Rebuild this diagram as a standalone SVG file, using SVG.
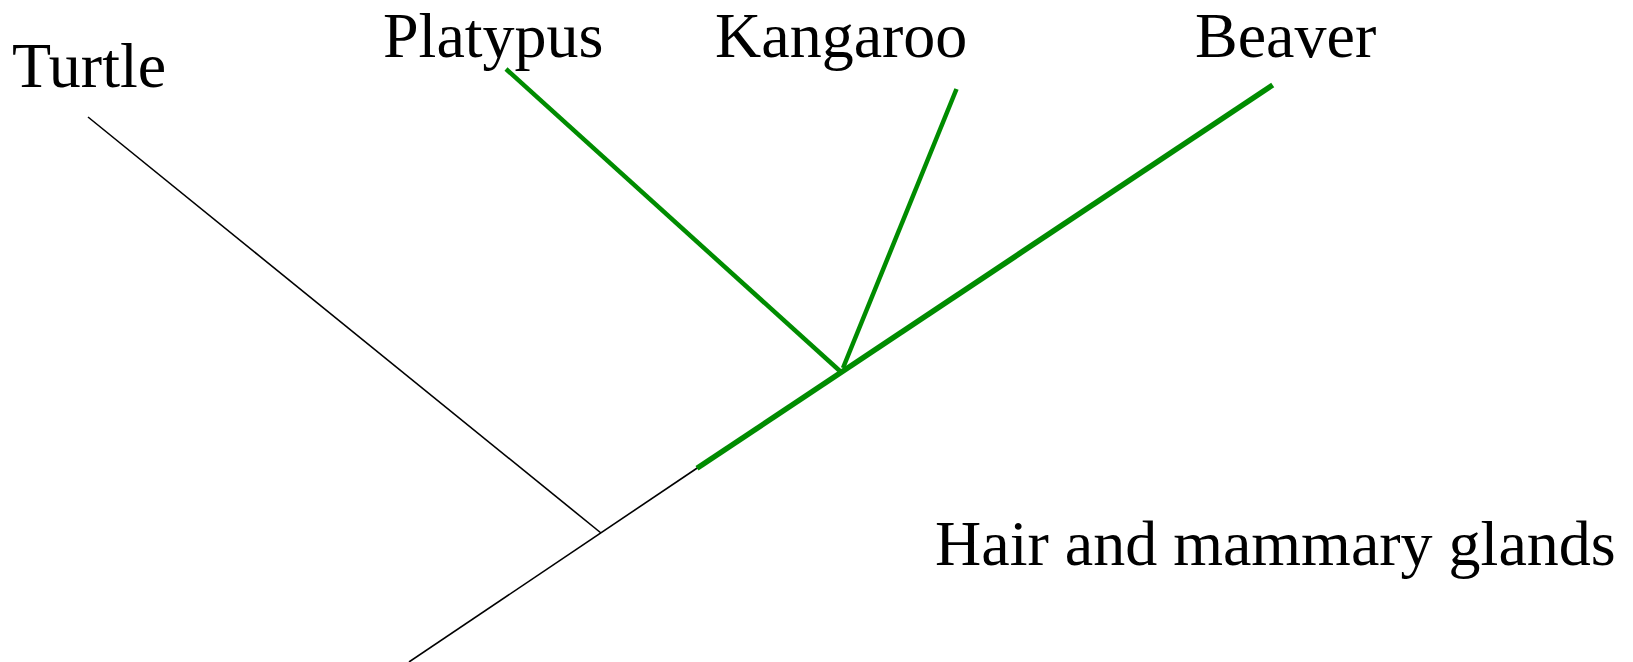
<svg xmlns="http://www.w3.org/2000/svg" width="1633" height="662" viewBox="0 0 1633 662">
<style>
text{font-family:"Liberation Serif","Times New Roman",serif;font-size:64px;fill:#000}
.thin{stroke:#000;stroke-width:1.6;fill:none}
.trunk{stroke:#008c00;stroke-width:5.5;fill:none}
.br{stroke:#008c00;stroke-width:4.5;fill:none}
</style>
<rect width="1633" height="662" fill="#fff"/>
<g id="connectors">
<line class="thin" x1="409" y1="662" x2="698" y2="467.5"/>
<line class="thin" x1="88" y1="117" x2="601" y2="533"/>
<line class="trunk" x1="697" y1="468.3" x2="1272.7" y2="85"/>
<line class="br" x1="506" y1="69" x2="841" y2="372"/>
<line class="br" x1="956.5" y1="89" x2="843" y2="368"/>
</g>
<g id="turtle"><text x="12" y="87">Turtle</text></g>
<g id="platypus"><text x="383" y="57">Platypus</text></g>
<g id="kangaroo"><text x="715" y="57">Kangaroo</text></g>
<g id="beaver"><text x="1195" y="57">Beaver</text></g>
<g id="trait"><text x="935" y="565">Hair and mammary glands</text></g>
</svg>
